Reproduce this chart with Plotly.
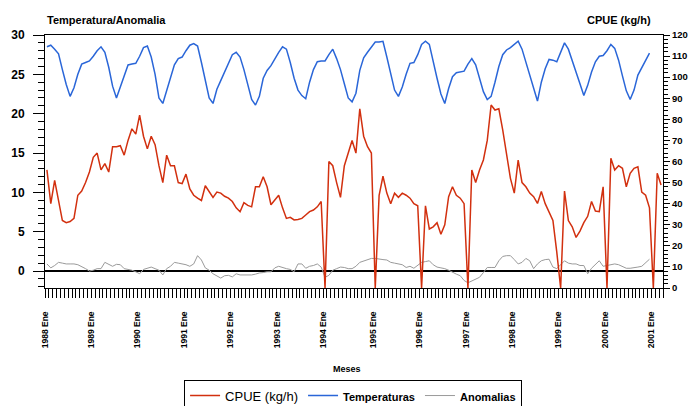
import plotly.graph_objects as go

# ---------------- data ----------------
# category index (one category per sampled month, Jan-1988 = 0)
months = list(range(160))

year_labels = ["1988 Ene", "1989 Ene", "1990 Ene", "1991 Ene", "1992 Ene", "1993 Ene",
               "1994 Ene", "1995 Ene", "1996 Ene", "1997 Ene", "1998 Ene", "1999 Ene",
               "2000 Ene", "2001 Ene"]
jan_index = [0, 12, 24, 36, 48, 60, 72, 85, 97, 109, 121, 133, 145, 157]

cpue = [56, 40, 51, 42, 32, 31, 31.5, 33, 44, 46, 50, 55,
        62, 64, 56, 59, 55, 67, 67, 67.5, 63, 70, 75.5, 73,
        82, 72, 66, 72, 68, 58, 50, 63, 58, 58, 50, 49.5,
        54, 47, 44, 42.6, 41.5, 48.5, 46, 43, 45.5, 45, 43.5, 42.6,
        41, 38, 36.2, 40.5, 39.2, 38.5, 48, 48, 52.8, 48, 39.5, 42,
        44, 38, 33, 33.5, 32.3, 32.5, 33, 34.6, 36.2, 37, 38.5, 41,
        0, 60, 58, 50, 43, 58, 64, 70, 64, 85, 72, 67, 64,
        0, 44, 53, 45, 40, 45, 43, 45, 44, 42.6, 40, 39,
        0, 39, 28, 29, 31, 25.5, 30, 43.3, 48, 44, 42.6, 40,
        0, 56, 50, 56, 60.7, 70, 86.8, 84.4, 85, 75, 64.5, 52,
        45, 60.7, 50, 48, 45, 43.3, 40.1, 45.8, 40, 36, 32, 17,
        0, 46, 32, 29, 24, 27, 31, 34, 41, 36.5, 36.2, 48,
        0, 61.5, 56, 58, 56.8, 48, 54.4, 56.8, 57.5, 45.5, 44, 38,
        0, 54.4, 48.9]

temperatura = [28.5, 28.7, 28.2, 27.6, 25.6, 23.7, 22.2, 23.3, 25.0, 26.3, 26.5, 26.7,
               27.3, 28.0, 28.5, 27.8, 25.9, 23.5, 22.0, 23.5, 25.0, 26.2, 26.3, 26.4,
               27.3, 28.4, 28.6, 27.2, 25.0, 22.0, 21.3, 23.0, 24.5, 26.2, 27.0, 27.2,
               28.0, 28.7, 28.9, 28.6, 26.5, 24.2, 22.0, 21.3, 23.1, 24.2, 25.3, 26.4,
               27.5, 27.8, 27.2, 25.6, 23.5, 21.8, 21.1, 22.2, 24.5, 25.5, 26.1, 27.0,
               27.8, 28.5, 28.2, 26.5, 24.5, 23.0, 22.3, 21.9, 24.0, 25.6, 26.6, 26.7,
               26.7, 27.5, 28.2, 27.0, 25.6, 23.8, 22.0, 21.5, 22.6, 25.5, 27.1, 27.8,
               28.5, 29.1, 29.1, 29.2, 27.2, 25.0, 23.0, 22.2, 23.4, 25.0, 26.4, 26.5,
               27.5, 28.8, 29.2, 28.8, 26.5, 24.5, 22.5, 21.3, 23.2, 24.7, 25.2, 25.3,
               25.4, 26.3, 27.0, 26.2, 24.5, 22.8, 21.8, 22.2, 24.0, 26.0, 27.5, 28.1,
               28.4, 28.8, 29.2, 28.2, 26.6, 25.0, 23.2, 21.6, 24.0, 25.7, 26.9, 26.8,
               26.6, 27.8, 29.0, 28.2, 26.8, 25.3, 23.8, 22.3, 23.6, 25.3, 26.6, 27.3,
               27.4, 28.0, 28.8, 28.3, 26.8, 24.8, 22.9, 21.8, 23.0, 24.9, 25.9, 26.8,
               27.7]

anomalia = [0.9, 0.4, 0.7, 1.1, 1.0, 0.9, 0.9, 0.9, 0.8, 0.6, 0.3, 0.0,
            0.1, 0.3, 0.3, 1.1, 0.9, 0.6, 0.85, 0.8, 0.3, 0.2, 0.1, -0.1,
            -0.35, 0.2, 0.4, 0.5, 0.3, 0.1, -0.5, 0.3, 0.6, 1.1, 1.0, 0.9,
            0.8, 0.6, 0.9, 1.95, 1.4, 0.4, 0.1, -0.35, -0.6, -0.9, -0.6, -0.55,
            -0.75, -0.35, -0.5, -0.5, -0.55, -0.5, -0.4, -0.25, -0.2, -0.1, -0.1, 0.4,
            0.6, 0.4, 0.3, 0.2, -0.1, 0.9, 0.9, 0.35, 0.6, 0.7, 0.9, 0.5,
            -0.8, -0.55, 0.1, 0.3, 0.5, 0.45, 0.3, 0.3, 0.6, 1.1, 1.3, 1.5,
            1.6, 1.6, 1.5, 1.45, 1.4, 1.1, 1.0, 0.9, 0.8, 0.45, 0.6, 0.35,
            0.7, 1.1, 1.2, 1.3, 0.8, 0.5, 0.4, 0.3, 0.1, -0.2, -0.4, -0.6,
            -1.2, -1.5, -1.3, -1.0, -0.8, -0.2, 0.45, 0.45, 0.45, 1.3, 1.85, 1.95,
            1.95, 1.45, 0.9, 1.1, 1.6, 1.3, 0.3, 0.9, 1.3, 1.45, 1.5, 0.5,
            0.3, 0.8, 1.3, 1.0, 0.9, 0.9, 0.7, 0.7, -0.35, 0.35, 0.8, 1.3,
            0.6, 0.7, 0.8, 0.9, 0.8, 0.6, 0.35, 0.35, 0.4, 0.5, 0.6, 1.1,
            1.5]

# ---------------- figure ----------------
RED = "#D2300F"
BLUE = "#2A66D8"
GRAY = "#9A9A9A"
FONT = "Arial"

fig = go.Figure()

fig.add_trace(go.Scatter(
    x=months[:len(cpue)], y=cpue, yaxis="y2", mode="lines",
    name="CPUE (kg/h)",
    line=dict(color=RED, width=1.5)))
fig.add_trace(go.Scatter(
    x=months[:len(temperatura)], y=temperatura, mode="lines",
    name="<b><span style='font-size:11px'>Temperaturas</span></b>",
    line=dict(color=BLUE, width=1.5)))
fig.add_trace(go.Scatter(
    x=months[:len(anomalia)], y=anomalia, mode="lines",
    name="<b><span style='font-size:11px'>Anomalias</span></b>",
    line=dict(color=GRAY, width=1)))

fig.update_layout(
    width=688, height=406,
    margin=dict(l=45, r=25, t=35, b=118, autoexpand=False),
    paper_bgcolor="white", plot_bgcolor="white",
    font=dict(family=FONT, color="black"),
    showlegend=True,
    legend=dict(orientation="h", x=0.4985, xanchor="center",
                y=-0.362, yanchor="top",
                bordercolor="black", borderwidth=1, bgcolor="white",
                font=dict(family=FONT, size=13, color="black"),
                itemwidth=30, traceorder="normal", tracegroupgap=0),
    xaxis=dict(
        range=[-0.5, 159.5],
        automargin=False,
        tickmode="array",
        tickvals=[j - 0.5 for j in jan_index],
        ticktext=year_labels,
        tickangle=-90,
        tickfont=dict(family=FONT, size=8.5, color="black", weight="bold"),
        ticks="outside", ticklen=9, tickwidth=1, tickcolor="black",
        ticklabelstandoff=10,
        minor=dict(tickmode="array",
                   tickvals=[m - 0.5 for m in range(len(months) + 1)],
                   ticks="outside", ticklen=9, tickwidth=1, tickcolor="black",
                   showgrid=False),
        showgrid=False, zeroline=False,
        showline=True, linecolor="black", linewidth=1, mirror=True,
    ),
    yaxis=dict(
        range=[-2.16, 30],
        automargin=False,
        tick0=0, dtick=5,
        tickfont=dict(family=FONT, size=12, color="black", weight="bold"),
        ticks="outside", ticklen=11, tickwidth=1, tickcolor="black",
        ticklabelstandoff=6,
        minor=dict(dtick=1, tick0=0, ticks="outside", ticklen=6,
                   tickwidth=1, tickcolor="black", showgrid=False),
        showgrid=False,
        zeroline=True, zerolinecolor="black", zerolinewidth=1.5,
        showline=True, linecolor="black", linewidth=1,
    ),
    yaxis2=dict(
        range=[0, 120],
        automargin=False,
        tick0=0, dtick=10,
        overlaying="y", side="right", anchor="x",
        tickfont=dict(family=FONT, size=9.5, color="black", weight="bold"),
        ticks="outside", ticklen=6, tickwidth=1, tickcolor="black",
        ticklabelstandoff=0,
        minor=dict(dtick=2, tick0=0, ticks="outside", ticklen=4,
                   tickwidth=1, tickcolor="black", showgrid=False),
        showgrid=False, zeroline=False,
        showline=True, linecolor="black", linewidth=1,
    ),
    annotations=[
        dict(text="Temperatura/Anomalia", xref="paper", yref="paper",
             x=0.0, y=1.059, xanchor="left", yanchor="middle", showarrow=False,
             font=dict(family=FONT, size=11, color="black", weight="bold")),
        dict(text="CPUE (kg/h)", xref="paper", yref="paper",
             x=0.984, y=1.059, xanchor="right", yanchor="middle", showarrow=False,
             font=dict(family=FONT, size=11, color="black", weight="bold")),
        dict(text="Meses", xref="paper", yref="paper",
             x=0.489, y=-0.32, xanchor="center", yanchor="middle", showarrow=False,
             font=dict(family=FONT, size=9, color="black", weight="bold")),
    ],
)

fig.write_html("out.html",
               config={"displayModeBar": False},
               post_script="document.body.style.margin='0';")
